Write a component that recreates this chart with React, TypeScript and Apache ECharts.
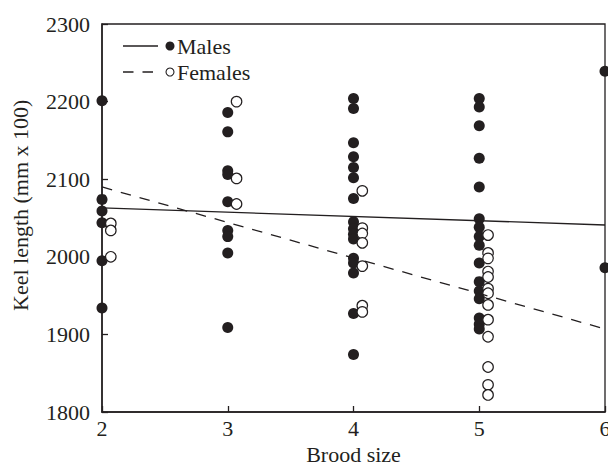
import React, { useEffect, useRef } from "react";
import * as echarts from "echarts";

const broodSizes = [2, 3, 4, 5, 6];
const malesByBrood: number[][] = [
  [2201, 2074, 2059, 2044, 1995, 1934],
  [2186, 2161, 2111, 2106, 2071, 2034, 2026, 2005, 1909],
  [2204, 2191, 2147, 2129, 2115, 2102, 2075, 2045, 2036, 2029, 2023, 1998, 1992, 1979, 1927, 1874],
  [2204, 2193, 2169, 2127, 2090, 2049, 2038, 2026, 2015, 1992, 1968, 1956, 1946, 1921, 1913, 1907],
  [2239, 1986],
];
const femalesByBrood: number[][] = [
  [2043, 2034, 2000],
  [2200, 2101, 2068],
  [2085, 2037, 2030, 2018, 1988, 1937, 1929],
  [2028, 2005, 1998, 1981, 1974, 1959, 1953, 1938, 1919, 1897, 1858, 1835, 1822],
  [],
];
const maleFit = [[2, 2063], [6, 2041]];
const femaleFit = [[2, 2090], [6, 1907]];
const xTicks = [2, 3, 4, 5, 6];
const yTicks = [1800, 1900, 2000, 2100, 2200, 2300];
const FEMALE_OFFSET = 0.07;

const INK = "#231f20";
const FONT = "Liberation Serif";

export default function App() {
  const ref = useRef<HTMLDivElement>(null);
  useEffect(() => {
    if (!ref.current) return;
    const chart = echarts.init(ref.current, null, { renderer: "svg" });
    const maleData: number[][] = [];
    const femaleData: number[][] = [];
    broodSizes.forEach((b, i) => {
      malesByBrood[i].forEach((v) => maleData.push([b, v]));
      femalesByBrood[i].forEach((v) => femaleData.push([b + FEMALE_OFFSET, v]));
    });
    chart.setOption({
      animation: false,
      backgroundColor: "#fff",
      textStyle: { fontFamily: FONT, color: INK },
      grid: {
        left: 102, right: 3, top: 24, bottom: 56,
        outerBoundsMode: "none",
        containLabel: false,
        show: true, borderColor: INK, borderWidth: 1.3, backgroundColor: "transparent",
      },
      xAxis: {
        type: "value",
        min: xTicks[0], max: xTicks[xTicks.length - 1], interval: 1,
        axisLine: { lineStyle: { color: INK, width: 1.5 } },
        axisTick: { inside: true, length: 6, lineStyle: { color: INK, width: 1.3 } },
        axisLabel: { fontFamily: FONT, fontSize: 22, color: INK, margin: 5, showMaxLabel: true, hideOverlap: false },
        splitLine: { show: false },
        name: "Brood size",
        nameLocation: "middle",
        nameGap: 29,
        nameTextStyle: { fontFamily: FONT, fontSize: 22, color: INK },
      },
      yAxis: {
        type: "value",
        min: yTicks[0], max: yTicks[yTicks.length - 1], interval: 100,
        axisLine: { lineStyle: { color: INK, width: 1.5 } },
        axisTick: { inside: true, length: 6, lineStyle: { color: INK, width: 1.3 } },
        axisLabel: { fontFamily: FONT, fontSize: 22, color: INK, margin: 12, formatter: (v: number) => String(v) },
        splitLine: { show: false },
      },
      graphic: [
        {
          type: "text", rotation: Math.PI / 2,
          style: { text: "Keel length (mm x 100)", font: `22px ${FONT}`, fill: INK },
          x: 9, y: 311,
        },
        { type: "line", shape: { x1: 123, y1: 46, x2: 158, y2: 46 }, style: { stroke: INK, lineWidth: 1.3 } },
        { type: "circle", shape: { cx: 170, cy: 46, r: 4.5 }, style: { fill: INK } },
        { type: "text", x: 177, y: 46, style: { text: "Males", font: `22px ${FONT}`, fill: INK, verticalAlign: "middle" } },
        { type: "line", shape: { x1: 123, y1: 72, x2: 158, y2: 72 }, style: { stroke: INK, lineWidth: 1.3, lineDash: [10.5, 9] } },
        { type: "circle", shape: { cx: 170, cy: 72, r: 4 }, style: { fill: "#fff", stroke: INK, lineWidth: 1.1 } },
        { type: "text", x: 177, y: 72, style: { text: "Females", font: `22px ${FONT}`, fill: INK, verticalAlign: "middle" } },
      ],
      series: [
        {
          type: "scatter", name: "Males", data: maleData, symbol: "circle", symbolSize: 11,
          itemStyle: { color: INK, opacity: 1 }, clip: false, z: 3,
        },
        {
          type: "scatter", name: "Females", data: femaleData, symbol: "circle", symbolSize: 10.5,
          itemStyle: { color: "#fff", borderColor: INK, borderWidth: 1.2, opacity: 1 }, clip: false, z: 4,
        },
        {
          type: "line", name: "Males fit", data: maleFit, showSymbol: false, symbol: "none",
          lineStyle: { color: INK, width: 1.3 }, z: 5,
        },
        {
          type: "line", name: "Females fit", data: femaleFit, showSymbol: false, symbol: "none",
          lineStyle: { color: INK, width: 1.3, type: [10.5, 9] }, z: 5,
        },
      ],
    });
    return () => chart.dispose();
  }, []);
  return <div ref={ref} style={{ position: "fixed", left: 0, top: 0, width: 608, height: 468 }} />;
}
